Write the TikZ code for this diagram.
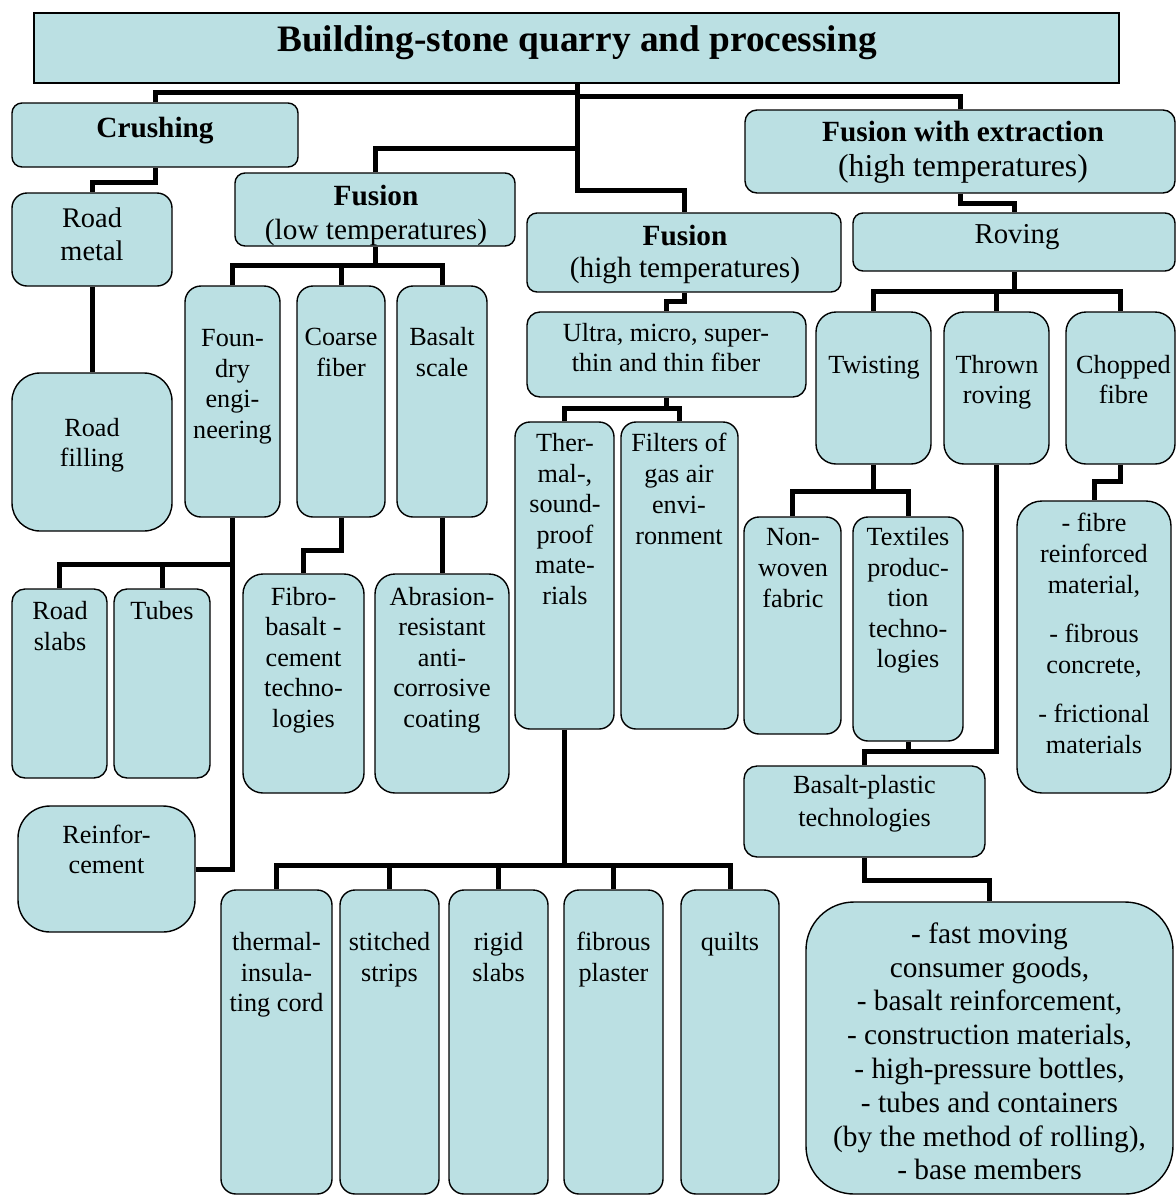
\documentclass[tikz,border=0pt]{standalone}
\usepackage{fontspec}
\setmainfont{Liberation Serif}
\usetikzlibrary{fit,backgrounds}
\definecolor{boxfill}{RGB}{187,224,227}
\newcommand\tstr{\rule{0pt}{0.8em}}
\newcommand\fBody{\fontsize{26.2}{30.5}\selectfont}
\newcommand\fMid{\fontsize{29.3}{33}\selectfont}
\begin{document}
\begin{tikzpicture}[x=1pt,y=-1pt,
  box/.style={draw=black, line width=1.4pt, fill=boxfill, inner sep=0pt, rectangle},
  conn/.style={draw=black, line width=5pt, line join=miter},
  txt/.style={align=center, inner sep=0pt, anchor=north, font=\fBody}]
\useasboundingbox (0,0) rectangle (1176,1195);
% boxes
\node[box, fit={(34,13) (1119,83)}] (title) {};
\node[box, rounded corners=10pt, fit={(12,103) (298,167)}] (crush) {};
\node[box, rounded corners=15pt, fit={(12,193) (172,286)}] (metal) {};
\node[box, rounded corners=28pt, fit={(12,373) (172,531)}] (filling) {};
\node[box, rounded corners=10pt, fit={(235,173) (515,246)}] (flow) {};
\node[box, rounded corners=16pt, fit={(185,286) (280,517)}] (foundry) {};
\node[box, rounded corners=16pt, fit={(297,286) (385,517)}] (coarse) {};
\node[box, rounded corners=16pt, fit={(397,286) (487,517)}] (bscale) {};
\node[box, rounded corners=13pt, fit={(12,589) (107,778)}] (slabs) {};
\node[box, rounded corners=13pt, fit={(114,589) (210,778)}] (tubes) {};
\node[box, rounded corners=32pt, fit={(18,806) (195,932)}] (reinf) {};
\node[box, rounded corners=20pt, fit={(243,574) (364,793)}] (fibro) {};
\node[box, rounded corners=20pt, fit={(375,574) (509,793)}] (abras) {};
\node[box, rounded corners=10pt, fit={(527,213) (841,292)}] (fhigh) {};
\node[box, rounded corners=13pt, fit={(527,312) (806,397)}] (ultra) {};
\node[box, rounded corners=15pt, fit={(515,422) (614,729)}] (thermal) {};
\node[box, rounded corners=15pt, fit={(621,422) (738,729)}] (filters) {};
\node[box, rounded corners=15pt, fit={(221,890) (332,1194)}] (cord) {};
\node[box, rounded corners=15pt, fit={(340,890) (439,1194)}] (strips) {};
\node[box, rounded corners=15pt, fit={(449,890) (548,1194)}] (rigid) {};
\node[box, rounded corners=15pt, fit={(564,890) (663,1194)}] (plaster) {};
\node[box, rounded corners=15pt, fit={(681,890) (779,1194)}] (quilts) {};
\node[box, rounded corners=12pt, fit={(745,110) (1175,193)}] (fwe) {};
\node[box, rounded corners=10pt, fit={(853,213) (1175,271)}] (roving) {};
\node[box, rounded corners=20pt, fit={(816,312) (931,464)}] (twist) {};
\node[box, rounded corners=20pt, fit={(944,312) (1049,464)}] (thrown) {};
\node[box, rounded corners=20pt, fit={(1066,312) (1175,464)}] (chopped) {};
\node[box, rounded corners=15pt, fit={(744,517) (841,734)}] (nonwoven) {};
\node[box, rounded corners=15pt, fit={(853,517) (963,741)}] (textiles) {};
\node[box, rounded corners=13pt, fit={(744,766) (985,857)}] (bplastic) {};
\node[box, rounded corners=48pt, fit={(806,902) (1173,1194)}] (big) {};
\node[box, rounded corners=25pt, fit={(1017,501) (1171,793)}] (fibrebox) {};
% connectors
\begin{scope}[on background layer]
\draw[conn] (title.south -| 577,0) -- ++(0,107) -| (fhigh.north);
\draw[conn] (crush.north) -- ++(0,-10) -| (title.south -| 577,0);
\draw[conn] (fwe.north) -- ++(0,-13) -| (title.south -| 577,0);
\draw[conn] (flow.north) -- ++(0,-24) -| (title.south -| 577,0);
\draw[conn] (crush.south) -- ++(0,15) -| (metal.north);
\draw[conn] (metal.south) -- (filling.north);
\draw[conn] (flow.south) -- ++(0,20);
\draw[conn] (foundry.north) -- ++(0,-20) -| (bscale.north);
\draw[conn] (coarse.north) -- ++(0,-20);
\draw[conn] (foundry.south) |- (reinf.east);
\draw[conn] (slabs.north) -- ++(0,-24) -| (foundry.south);
\draw[conn] (tubes.north) -- ++(0,-24);
\draw[conn] (coarse.south) -- ++(0,33) -| (fibro.north);
\draw[conn] (bscale.south) -- (abras.north);
\draw[conn] (fhigh.south) -- ++(0,9) -| (ultra.north);
\draw[conn] (ultra.south) -- ++(0,12);
\draw[conn] (thermal.north) -- ++(0,-13) -| (filters.north);
\draw[conn] (thermal.south) -- ++(0,137);
\draw[conn] (cord.north) -- ++(0,-24) -| (quilts.north);
\draw[conn] (strips.north) -- ++(0,-24);
\draw[conn] (rigid.north) -- ++(0,-24);
\draw[conn] (plaster.north) -- ++(0,-24);
\draw[conn] (fwe.south) -- ++(0,9.5) -| (roving.north);
\draw[conn] (roving.south) -- ++(0,21);
\draw[conn] (twist.north) -- ++(0,-20) -| (chopped.north);
\draw[conn] (thrown.north) -- ++(0,-20);
\draw[conn] (twist.south) -- ++(0,28);
\draw[conn] (nonwoven.north) -- ++(0,-25) -| (textiles.north);
\draw[conn] (bplastic.north) -- ++(0,-13.5) -| (thrown.south);
\draw[conn] (textiles.south) -- ++(0,12);
\draw[conn] (bplastic.south) -- ++(0,23) -| (big.north);
\draw[conn] (chopped.south) -- ++(0,17) -| (fibrebox.north);
\end{scope}
% texts
\node[txt, font=\bfseries\fontsize{37.3}{40}\selectfont] (t-title) at (577,21.2) {\tstr Building-stone quarry and processing};
\node[txt, font=\bfseries\fMid] (t-crush) at (155,113.6) {\tstr Crushing};
\node[txt, font=\fontsize{28.4}{33}\selectfont] (t-metal) at (92,204.3) {\tstr Road\\metal};
\node[txt, font=\fontsize{26.2}{30}\selectfont] (t-filling) at (92,415.7) {\tstr Road\\filling};
\node[txt, font=\fontsize{29.3}{33.5}\selectfont] (t-flow) at (376,182.3) {\tstr\textbf{Fusion}\\(low temperatures)};
\node[txt, font=\fontsize{29.3}{32}\selectfont] (t-fhigh) at (685,222.3) {\tstr\textbf{Fusion}\\(high temperatures)};
\node[txt, font=\fontsize{29.3}{35}\selectfont] (t-fwe) at (963,118.3) {\tstr\textbf{Fusion with extraction}\\{\fontsize{31.8}{35}\selectfont (high temperatures)}};
\node[txt, font=\fontsize{28.8}{32}\selectfont] (t-roving) at (1017,220.5) {\tstr Roving};
\node[txt] (t-foundry) at (232.5,325.5) {\tstr Foun-\\dry\\engi-\\neering};
\node[txt] (t-coarse) at (341,324.5) {\tstr Coarse\\fiber};
\node[txt] (t-bscale) at (442,324.5) {\tstr Basalt\\scale};
\node[txt, font=\fontsize{26.2}{30}\selectfont] (t-ultra) at (666,320.7) {\tstr Ultra, micro, super-\\thin and thin fiber};
\node[txt] (t-thermal) at (565,430.7) {\tstr Ther-\\mal-,\\sound-\\proof\\mate-\\rials};
\node[txt, font=\fontsize{26.2}{31}\selectfont] (t-filters) at (679,430.7) {\tstr Filters of\\gas air\\envi-\\ronment};
\node[txt] (t-twist) at (874,352.3) {\tstr Twisting};
\node[txt] (t-thrown) at (997,352.3) {\tstr Thrown\\roving};
\node[txt] (t-chopped) at (1123.5,352.3) {\tstr Chopped\\fibre};
\node[txt, font=\fontsize{26.2}{31}\selectfont] (t-nonwoven) at (793,524.5) {\tstr Non-\\woven\\fabric};
\node[txt] (t-textiles) at (908,524.5) {\tstr Textiles\\produc-\\tion\\techno-\\logies};
\node[txt] (t-fibro) at (303.5,584) {\tstr Fibro-\\basalt -\\cement\\techno-\\logies};
\node[txt] (t-abras) at (442,584) {\tstr Abrasion-\\resistant\\anti-\\corrosive\\coating};
\node[txt] (t-slabs) at (60,598.5) {\tstr Road\\slabs};
\node[txt] (t-tubes) at (162,598.5) {\tstr Tubes};
\node[txt, font=\fontsize{26.2}{31}\selectfont] (t-fibrebox) at (1094,510.7) {\tstr - fibre\\reinforced\\material,\\[18pt]- fibrous\\concrete,\\[18pt]- frictional\\materials};
\node[txt, font=\fontsize{26.2}{33}\selectfont] (t-bplastic) at (864.5,772.3) {\tstr Basalt-plastic\\technologies};
\node[txt, font=\fontsize{26.2}{30}\selectfont] (t-reinf) at (106.5,822.3) {\tstr Reinfor-\\cement};
\node[txt] (t-cord) at (276.5,929.7) {\tstr thermal-\\insula-\\ting cord};
\node[txt] (t-strips) at (389.5,929.7) {\tstr stitched\\strips};
\node[txt] (t-rigid) at (498.5,929.7) {\tstr rigid\\slabs};
\node[txt] (t-plaster) at (613.5,929.7) {\tstr fibrous\\plaster};
\node[txt] (t-quilts) at (730,929.7) {\tstr quilts};
\node[txt, font=\fontsize{29.4}{33.8}\selectfont] (t-big) at (989.5,919.5) {\tstr - fast moving\\consumer goods,\\- basalt reinforcement,\\- construction materials,\\- high-pressure bottles,\\- tubes and containers\\(by the method of rolling),\\- base members};
\end{tikzpicture}
\end{document}
